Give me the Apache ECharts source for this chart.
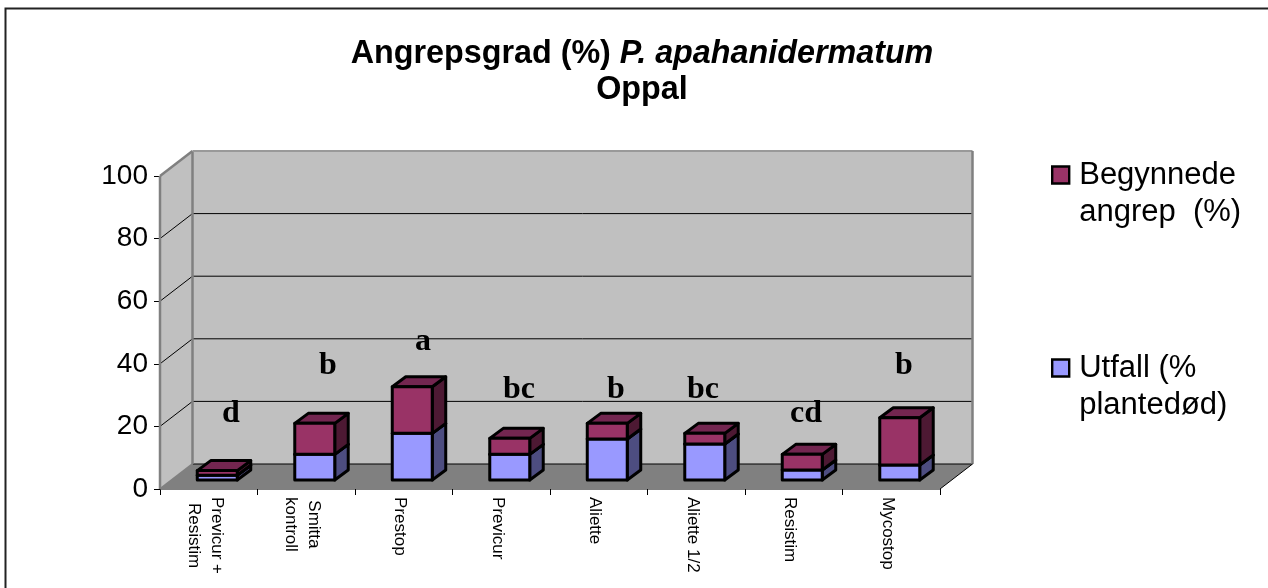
<!DOCTYPE html>
<html><head><meta charset="utf-8">
<style>html,body{margin:0;padding:0;background:#fff}#c{width:1268px;height:588px}</style>
<script src="https://cdn.jsdelivr.net/npm/echarts@6/dist/echarts.min.js"></script>
</head><body><div id="c"></div>
<script>
const categories = ['Previcur +\nResistim','Smitta\nkontroll','Prestop','Previcur','Aliette','Aliette 1/2','Resistim','Mycostop'];
const utfall = [1.5,8.2,14.9,8.2,13.1,11.5,3.2,4.8];
const begynnede = [1.5,9.9,14.9,5.1,5.0,3.4,5.0,15.1];
const yTicks = [0,20,40,60,80,100];
const letters = ['d','b','a','bc','b','bc','cd','b'];
const letterPos = [0.728,1.723,2.697,3.682,4.677,5.569,6.626,7.631];
const letterLevel = [24.0,39.5,47,31.7,31.7,31.7,24.0,39.3];
const nameTop = 'Begynnede\nangrep  (%)';
const nameBottom = 'Utfall (%\nplantedød)';

const FONT = '"Liberation Sans", Arial, sans-serif';
const WALL_DX = 32.5, WALL_DY = -25;
const BAR_DX = 13.5, BAR_DY = -10, BAR_SHIFT_X = 8.5, BAR_SHIFT_Y = -9, BAR_FRAC = 0.41;

function poly(points, fill, stroke, lw){
  return {type:'polygon', shape:{points}, style:{fill, stroke:stroke||'none', lineWidth:lw||0, lineJoin:'round'}};
}
function line(a,b,stroke,lw){
  return {type:'line', shape:{x1:a[0],y1:a[1],x2:b[0],y2:b[1]}, style:{stroke, lineWidth:lw}};
}
function renderWalls(params, api){
  const c = params.coordSys, L=c.x, R=c.x+c.width, T=c.y, B=c.y+c.height;
  const kids = [];
  kids.push(poly([[L+WALL_DX,T+WALL_DY],[R+WALL_DX,T+WALL_DY],[R+WALL_DX,B+WALL_DY],[L+WALL_DX,B+WALL_DY]],'#c0c0c0'));
  kids.push(poly([[L,T],[L+WALL_DX,T+WALL_DY],[L+WALL_DX,B+WALL_DY],[L,B]],'#c0c0c0'));
  kids.push(poly([[L,B],[L+WALL_DX,B+WALL_DY],[R+WALL_DX,B+WALL_DY],[R,B]],'#808080'));
  yTicks.forEach(v=>{
    if(v===0) return;
    const y = api.coord([0,v])[1];
    if(v<100){
      kids.push(line([L+WALL_DX,y+WALL_DY],[R+WALL_DX,y+WALL_DY],'#000',1));
      kids.push(line([L,y],[L+WALL_DX,y+WALL_DY],'#000',1));
    }
  });
  kids.push(line([L+WALL_DX,B+WALL_DY],[R+WALL_DX,B+WALL_DY],'#000',1));
  kids.push(line([L,B],[L+WALL_DX,B+WALL_DY],'#808080',2));
  kids.push(line([L,T],[L,B],'#808080',2.5));
  kids.push(line([L,T],[L+WALL_DX,T+WALL_DY],'#808080',2.5));
  kids.push(line([L+WALL_DX,T+WALL_DY],[L+WALL_DX,B+WALL_DY],'#808080',2.5));
  kids.push(line([L+WALL_DX,T+WALL_DY],[R+WALL_DX,T+WALL_DY],'#999',2));
  kids.push(line([R+WALL_DX,T+WALL_DY],[R+WALL_DX,B+WALL_DY],'#808080',2.5));
  kids.push(line([R,B],[R+WALL_DX,B+WALL_DY],'#000',1));
  return {type:'group', children:kids};
}
function boxRenderer(front, top, side){
  return function(params, api){
    const i = api.value(0), lo = api.value(1), hi = api.value(2);
    const w = api.size([1,0])[0]*BAR_FRAC;
    const pLo = api.coord([i,lo]), pHi = api.coord([i,hi]);
    const x0 = pLo[0]-w/2+BAR_SHIFT_X, x1 = x0+w, yb = pLo[1]+BAR_SHIFT_Y, yt = pHi[1]+BAR_SHIFT_Y;
    const st = {stroke:'#000', lw:3};
    return {type:'group', children:[
      poly([[x1,yb],[x1+BAR_DX,yb+BAR_DY],[x1+BAR_DX,yt+BAR_DY],[x1,yt]],side,st.stroke,st.lw),
      poly([[x0,yt],[x0+BAR_DX,yt+BAR_DY],[x1+BAR_DX,yt+BAR_DY],[x1,yt]],top,st.stroke,st.lw),
      poly([[x0,yb],[x1,yb],[x1,yt],[x0,yt]],front,st.stroke,st.lw)
    ]};
  };
}
const bottomData = utfall.map((v,i)=>[i,0,v]);
const topData = begynnede.map((v,i)=>[i,utfall[i],utfall[i]+v]);

function legendOpt(name, top){
  return {data:[name],left:1051,top,orient:'vertical',padding:0,icon:'rect',
    itemWidth:17,itemHeight:17,itemGap:0,selectedMode:false,
    formatter:n=>'{t| }\n'+n.split('\n').map(s=>'{t|'+s+'}').join('\n'),
    itemStyle:{borderColor:'#000',borderWidth:2.4},
    textStyle:{fontFamily:FONT,fontSize:31,color:'#000',lineHeight:37,
      rich:{t:{fontFamily:FONT,fontSize:31,color:'#000',lineHeight:37,padding:[0,0,0,5]}}}};
}

const chart = echarts.init(document.getElementById('c'),null,{renderer:'canvas'});
chart.setOption({
  animation:false,
  backgroundColor:'#fff',
  title:{
    left:642, top:36.5, textAlign:'center', padding:0,
    text:'{b|Angrepsgrad (%) }{i|P. apahanidermatum}\n{b|Oppal}',
    textStyle:{rich:{
      b:{fontFamily:FONT,fontSize:32.3,fontWeight:'bold',color:'#000',lineHeight:35.5},
      i:{fontFamily:FONT,fontSize:32.3,fontWeight:'bold',fontStyle:'italic',color:'#000',lineHeight:35.5}
    }}
  },
  legend:[legendOpt(nameTop,119.5),legendOpt(nameBottom,312.5)],
  grid:{left:160,top:176,width:780,height:313,containLabel:false},
  xAxis:[
    {type:'category',data:categories,boundaryGap:true,
     axisLine:{show:true,lineStyle:{color:'#808080',width:1}},
     axisTick:{show:true,length:6,lineStyle:{color:'#000',width:1}},
     axisLabel:{rotate:-90,margin:8,interval:0,padding:[8,0,0,0],color:'#000',
       fontFamily:FONT,fontSize:17,lineHeight:23,
       formatter:v=>v.split('\n').map(s=>'{c|'+s+'}').join('\n'),
       rich:{c:{align:'center',fontFamily:FONT,fontSize:17,lineHeight:23,color:'#000'}}}},
    {type:'value',min:0,max:8,show:false}
  ],
  yAxis:{type:'value',min:0,max:100,interval:20,
    axisLine:{show:false},
    axisTick:{show:true,length:6,lineStyle:{color:'#000',width:1}},
    splitLine:{show:false},
    axisLabel:{margin:12,color:'#000',fontFamily:FONT,fontSize:28}},
  series:[
    {type:'custom',name:'walls',silent:true,z:1,clip:false,data:[[0,0]],encode:{x:0,y:1},renderItem:renderWalls},
    {type:'custom',name:nameBottom,z:3,clip:false,itemStyle:{color:'#9999ff'},data:bottomData,
     encode:{x:0,y:[1,2]},renderItem:boxRenderer('#9999ff','#7373bf','#4d4d80')},
    {type:'custom',name:nameTop,z:4,clip:false,itemStyle:{color:'#993366'},data:topData,
     encode:{x:0,y:[1,2]},renderItem:boxRenderer('#993366','#732650','#4d1933')},
    {type:'scatter',name:'letters',xAxisIndex:1,z:5,symbolSize:0,silent:true,itemStyle:{opacity:1},
     data:letters.map((s,i)=>[letterPos[i],letterLevel[i],s]),
     label:{show:true,position:'inside',formatter:p=>p.value[2],color:'#000',opacity:1,
       fontFamily:'"Liberation Serif","Times New Roman",serif',fontWeight:'bold',fontSize:32}}
  ],
  graphic:[{type:'polyline',silent:true,z:10,shape:{points:[[5.5,588],[5.5,8.5],[1268,8.5]]},style:{stroke:'#222',lineWidth:2,fill:'none'}}]
});
</script></body></html>
